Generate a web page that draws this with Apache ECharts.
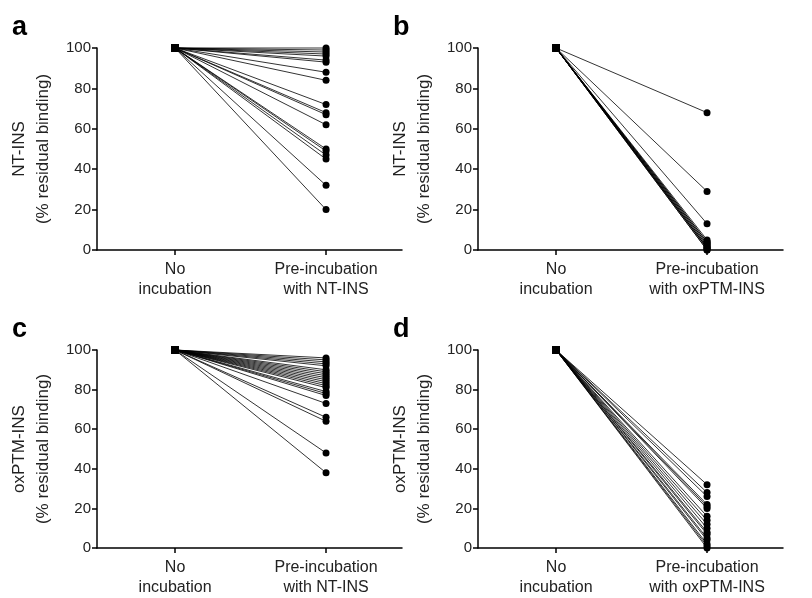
<!DOCTYPE html>
<html>
<head>
<meta charset="utf-8">
<script src="https://cdn.jsdelivr.net/npm/echarts@6/dist/echarts.min.js"></script>
<style>
  html, body { margin: 0; padding: 0; background: #fff; }
  #main { width: 812px; height: 598px; }
</style>
</head>
<body>
<div id="main"></div>
<script>
// residual binding (%) after pre-incubation, one value per subject; start is always 100
var baseline = 100;
var panelA = [100, 99, 98, 97, 96, 94, 93, 88, 84, 72, 68, 67, 62, 50, 49, 47, 45, 32, 20];
var panelB = [68, 29, 13, 5, 4, 4, 3, 3, 2, 2, 1, 1, 1, 0, 0];
var panelC = [96, 95, 94, 93, 92, 90, 89, 88, 87, 86, 85, 84, 83, 82, 81, 79, 78, 77, 73, 66, 64, 48, 38];
var panelD = [32, 28, 26, 22, 21, 20, 16, 14, 12, 10, 8, 7, 5, 4, 2, 1, 0];

var xLabelsNT = ['No\nincubation', 'Pre-incubation\nwith NT-INS'];
var xLabelsOx = ['No\nincubation', 'Pre-incubation\nwith oxPTM-INS'];
var yNames = ['NT-INS\n(% residual binding)', 'NT-INS\n(% residual binding)',
              'oxPTM-INS\n(% residual binding)', 'oxPTM-INS\n(% residual binding)'];
var letters = ['a', 'b', 'c', 'd'];

var font = '"Liberation Sans", Arial, Helvetica, sans-serif';
var panels = [panelA, panelB, panelC, panelD];
var xLabels = [xLabelsNT, xLabelsOx, xLabelsNT, xLabelsOx];
var grids = [
    { left: 97, top: 48, width: 305, height: 202 },
    { left: 478, top: 48, width: 305, height: 202 },
    { left: 97, top: 350, width: 305, height: 202 },
    { left: 478, top: 350, width: 305, height: 202 }
];

var chart = echarts.init(document.getElementById('main'));

var xAxes = [], yAxes = [], series = [], graphics = [];
grids.forEach(function (g, i) {
    xAxes.push({
        type: 'value', gridIndex: i, min: -0.517, max: 1.503,
        axisLine: { onZero: false, lineStyle: { color: '#000', width: 1.5 } },
        axisTick: { show: true, length: 5, customValues: [0, 1], lineStyle: { color: '#000', width: 1.5 } },
        axisLabel: {
            customValues: [0, 1], color: '#222', fontFamily: font, fontSize: 16, lineHeight: 20, margin: 10,
            formatter: function (v) { return xLabels[i][Math.round(v)]; }
        },
        splitLine: { show: false }
    });
    yAxes.push({
        type: 'value', gridIndex: i, min: 0, max: 100, interval: 20,
        name: yNames[i], nameLocation: 'middle', nameRotate: 90, nameGap: 42,
        nameTextStyle: { color: '#222', fontFamily: font, fontSize: 17, lineHeight: 24 },
        axisLine: { show: true, onZero: false, lineStyle: { color: '#000', width: 1.5 } },
        axisTick: { show: true, length: 5, lineStyle: { color: '#000', width: 1.5 } },
        axisLabel: { color: '#222', fontFamily: font, fontSize: 15, margin: 6 },
        splitLine: { show: false }
    });
    panels[i].forEach(function (v) {
        series.push({
            type: 'line', xAxisIndex: i, yAxisIndex: i, clip: false,
            data: [
                { value: [0, baseline], symbol: 'rect', symbolSize: 7 },
                { value: [1, v], symbol: 'circle', symbolSize: 7 }
            ],
            lineStyle: { color: '#000', width: 0.8 },
            itemStyle: { color: '#000' },
            animation: false, silent: true
        });
    });
    graphics.push({
        type: 'text', left: i % 2 === 0 ? 12 : 393, top: i < 2 ? 14 : 316,
        style: { text: letters[i], font: 'bold 27px ' + font, fill: '#000' }
    });
});

chart.setOption({
    backgroundColor: '#fff',
    animation: false,
    grid: grids,
    xAxis: xAxes,
    yAxis: yAxes,
    series: series,
    graphic: graphics
});
</script>
</body>
</html>
